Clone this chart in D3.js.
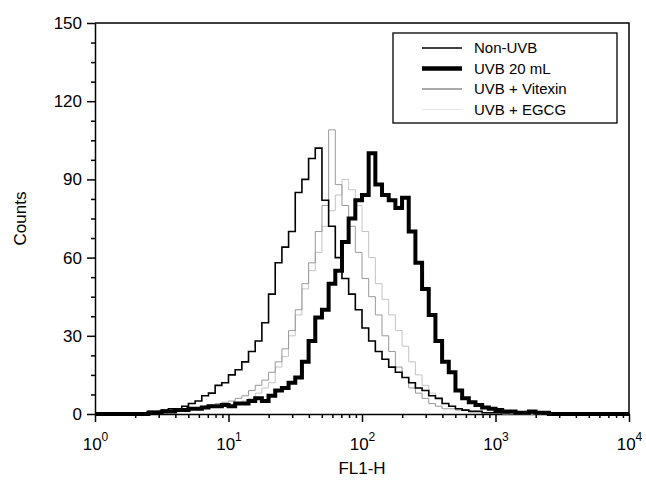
<!DOCTYPE html>
<html>
<head>
<meta charset="utf-8">
<script src="https://cdn.jsdelivr.net/npm/d3@7"></script>
<style>
  body { margin: 0; background: #fff; }
  svg { font-family: "Liberation Sans", Arial, sans-serif; }
  .axis path, .axis line { stroke: #000; stroke-width: 1.5; }
  .axis text { font-size: 17px; fill: #000; }
</style>
</head>
<body>
<div id="chart"></div>
<script>

// channel grid: log10(FL1-H) from 0 to 4 in steps of 0.05
var binExp = d3.range(0, 4.0001, 0.05);

var seriesNames = ["Non-UVB", "UVB 20 mL", "UVB + Vitexin", "UVB + EGCG"];

var nonUVB = [
  0, 0, 0, 0, 0, 0, 0.5, 0.5, 1, 1,
  1.5, 2, 1.5, 3, 4, 5, 7, 8, 11, 12,
  15, 17, 20, 24, 28, 35, 46, 58, 64, 70,
  85, 90, 98, 102, 82, 72, 60, 52, 46, 40,
  33, 28, 24, 21, 18, 16, 14, 12, 10, 9,
  7, 6, 4, 3, 2, 1.5, 1, 1, 0.5, 0.5,
  0.5, 0.5, 1, 0.5, 0.5, 0.5, 0.5, 0, 0.5, 0,
  0, 0, 0, 0, 0, 0, 0, 0, 0, 0,
  0
];

var uvb20 = [
  0, 0, 0, 0, 0, 0, 0, 0, 0.5, 0.5,
  1, 1, 1.5, 1.5, 2, 2, 2.5, 3, 3, 3.5,
  3, 4, 4, 5, 6, 5, 7, 9, 10, 12,
  14, 20, 28, 37, 40, 50, 55, 66, 75, 82,
  84, 100, 88, 84, 82, 79, 83, 70, 58, 48,
  38, 28, 20, 16, 9, 6, 4.5, 3.5, 2.5, 2,
  1.5, 1, 1, 0.5, 0.5, 1, 0.5, 0.5, 0, 0,
  0, 0, 0, 0, 0, 0, 0, 0, 0, 0,
  0
];

var vitexin = [
  0, 0, 0, 0, 0, 0, 0.5, 0.5, 1, 1,
  1, 1.5, 1.5, 2, 2, 2.5, 3, 3.5, 4, 4.5,
  5, 6, 7, 9, 11, 13, 16, 20, 25, 32,
  40, 50, 58, 70, 80, 109, 88, 80, 72, 62,
  52, 45, 38, 30, 24, 18, 14, 10, 8, 6,
  4, 3, 2, 2, 1.5, 1.5, 1, 1, 0.5, 0.5,
  0.5, 0.5, 0, 0.5, 0, 0, 0, 0, 0, 0,
  0, 0, 0, 0, 0, 0, 0, 0, 0, 0,
  0
];

var egcg = [
  0, 0, 0, 0, 0, 0, 0, 0.5, 0.5, 1,
  1, 1, 1.5, 1.5, 2, 2, 2.5, 2.5, 3, 3,
  3.5, 4, 5, 6, 8, 10, 12, 18, 22, 30,
  38, 48, 55, 62, 72, 78, 84, 90, 86, 80,
  70, 60, 50, 44, 38, 32, 26, 20, 15, 11,
  8, 6, 4, 3, 2, 1.5, 1, 1, 0.5, 0.5,
  0.5, 0, 0.5, 0, 0, 0, 0, 0, 0, 0,
  0, 0, 0, 0, 0, 0, 0, 0, 0, 0,
  0
];

var yTicks = [0, 30, 60, 90, 120, 150];
var xTicks = [1, 10, 100, 1000, 10000];

var margin = {top: 23, right: 17, bottom: 67, left: 95},
    width = 646 - margin.left - margin.right,
    height = 481 - margin.top - margin.bottom;

var svg = d3.select("#chart").append("svg")
    .attr("width", 646)
    .attr("height", 481)
  .append("g")
    .attr("transform", "translate(" + margin.left + "," + margin.top + ")");

var x = d3.scaleLog()
    .domain([1, 10000])
    .range([0, width]);

var y = d3.scaleLinear()
    .domain([0, 150])
    .range([height, 0]);

// minor ticks first
var xMinor = [];
[1, 10, 100, 1000].forEach(function(d) {
  for (var k = 2; k < 10; k++) xMinor.push(d * k);
});
var yMinor = d3.range(0, 150, 7.5).filter(function(d) { return d % 30 != 0; });

svg.append("g")
    .attr("class", "axis")
    .attr("transform", "translate(0," + height + ")")
    .call(d3.axisBottom(x).tickValues(xMinor).tickSize(4).tickFormat(""))
    .select(".domain").remove();

svg.append("g")
    .attr("class", "axis")
    .call(d3.axisLeft(y).tickValues(yMinor).tickSize(4).tickFormat(""))
    .select(".domain").remove();

var xAxis = svg.append("g")
    .attr("class", "axis")
    .attr("transform", "translate(0," + height + ")")
    .call(d3.axisBottom(x).tickValues(xTicks).tickSize(8).tickSizeOuter(0).tickFormat(""));

xAxis.selectAll(".tick").append("text")
    .attr("y", 36)
    .attr("text-anchor", "middle")
    .attr("fill", "#000")
    .each(function(d) {
      var t = d3.select(this);
      t.append("tspan").text("10");
      t.append("tspan")
          .attr("dy", -9)
          .style("font-size", "12px")
          .text(Math.round(Math.log10(d)));
    });

svg.append("g")
    .attr("class", "axis")
    .call(d3.axisLeft(y).tickValues(yTicks).tickSize(8).tickSizeOuter(0).tickPadding(5));

// top and right frame
svg.append("path")
    .attr("d", "M0,0H" + width + "V" + height)
    .attr("fill", "none")
    .attr("stroke", "#000")
    .attr("stroke-width", 1.5);

svg.append("text")
    .attr("transform", "translate(" + (-69) + "," + height / 2 + ") rotate(-90)")
    .attr("text-anchor", "middle")
    .style("font-size", "17px")
    .text("Counts");

svg.append("text")
    .attr("x", x(100))
    .attr("y", height + 60)
    .attr("text-anchor", "middle")
    .style("font-size", "17px")
    .text("FL1-H");

var line = d3.line()
    .x(function(d, i) { return x(Math.pow(10, binExp[i])); })
    .y(function(d) { return y(d); })
    .curve(d3.curveStepAfter);

var series = [
  {name: seriesNames[3], values: egcg, color: "#c4c4c4", w: 1},
  {name: seriesNames[2], values: vitexin, color: "#999", w: 1},
  {name: seriesNames[0], values: nonUVB, color: "#000", w: 1.6},
  {name: seriesNames[1], values: uvb20, color: "#000", w: 4}
];

svg.append("g").selectAll(".series")
    .data(series)
  .enter().append("path")
    .attr("class", "series")
    .attr("fill", "none")
    .attr("stroke", function(d) { return d.color; })
    .attr("stroke-width", function(d) { return d.w; })
    .attr("d", function(d) { return line(d.values); });

// legend
var legendItems = [
  {name: seriesNames[0], color: "#000", w: 1.4},
  {name: seriesNames[1], color: "#000", w: 4.5},
  {name: seriesNames[2], color: "#555", w: 1},
  {name: seriesNames[3], color: "#e6e6e6", w: 1}
];

var legend = svg.append("g")
    .attr("transform", "translate(" + (393 - margin.left) + "," + (33 - margin.top) + ")");

legend.append("rect")
    .attr("width", 224)
    .attr("height", 90)
    .attr("fill", "#fff")
    .attr("stroke", "#000")
    .attr("stroke-width", 1.3);

var rows = legend.selectAll(".row")
    .data(legendItems)
  .enter().append("g")
    .attr("transform", function(d, i) { return "translate(0," + (15 + i * 20.5) + ")"; });

rows.append("line")
    .attr("x1", 29)
    .attr("x2", 69)
    .attr("stroke", function(d) { return d.color; })
    .attr("stroke-width", function(d) { return d.w; });

rows.append("text")
    .attr("x", 81)
    .attr("dy", "0.36em")
    .style("font-size", "15px")
    .text(function(d) { return d.name; });

</script>
</body>
</html>
